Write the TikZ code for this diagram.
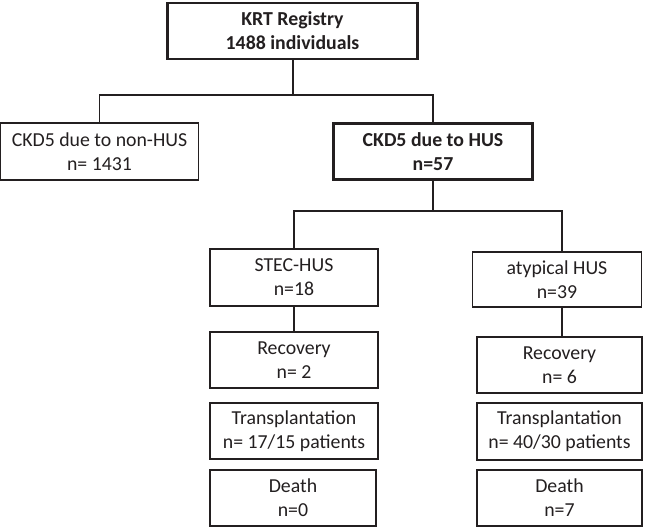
\documentclass[tikz,border=0pt]{standalone}
\usepackage{fontspec}
\setmainfont{Carlito}
\definecolor{ink}{HTML}{231F20}
\begin{document}
\begin{tikzpicture}[x=1pt,y=1pt,
  box/.style={draw=ink, text=ink, line width=1.3pt, inner sep=0pt, align=center,
    font=\fontsize{19.8}{24}\selectfont},
  thickbox/.style={box, line width=2.8pt, font=\fontsize{19.8}{24}\selectfont\bfseries},
  link/.style={draw=ink, line width=1.3pt}]
\useasboundingbox (0,0) rectangle (646,-527);
\fill[white] (0,0) rectangle (646,-527);
\node[thickbox, minimum width=250pt, minimum height=56pt] (top) at (292.5,-31) {KRT Registry\\1488 individuals};
\node[box, minimum width=197.5pt, minimum height=57pt] (nonhus) at (99.5,-151.5) {CKD5 due to non-HUS\\n= 1431};
\node[thickbox, minimum width=199pt, minimum height=56pt] (hus) at (433,-151.5) {CKD5 due to HUS\\n=57};
\node[box, minimum width=168pt, minimum height=57pt] (stec) at (294,-277.5) {STEC-HUS\\n=18};
\node[box, minimum width=169pt, minimum height=55pt] (atyp) at (557,-279.5) {atypical HUS\\n=39};
\node[box, minimum width=168pt, minimum height=56pt] (srec) at (294,-360) {Recovery\\n= 2};
\node[box, minimum width=168pt, minimum height=56pt] (strans) at (294,-431) {Transplantation\\n= 17/15 patients};
\node[box, minimum width=166pt, minimum height=56pt] (sdeath) at (293,-498) {Death\\n=0};
\node[box, minimum width=165pt, minimum height=56pt] (arec) at (559.5,-365) {Recovery\\n= 6};
\node[box, minimum width=165pt, minimum height=57pt] (atrans) at (559.5,-431.5) {Transplantation\\n= 40/30 patients};
\node[box, minimum width=165pt, minimum height=56pt] (adeath) at (559.5,-498) {Death\\n=7};
\coordinate (b1) at (293,-95);
\coordinate (b2) at (433,-211);
\coordinate (xr) at (562,-211);
\draw[link] ([yshift=1.4pt]top.south -| b1) -- (b1);
\draw[link] (nonhus.north) |- (b1) -| (hus.north);
\draw[link] ([yshift=1.4pt]hus.south) -- (b2);
\draw[link] (stec.north) |- (xr) -- (atyp.north -| xr);
\draw[link] (stec.south) -- (srec.north);
\draw[link] (atyp.south -| xr) -- (arec.north -| xr);
\end{tikzpicture}
\end{document}
